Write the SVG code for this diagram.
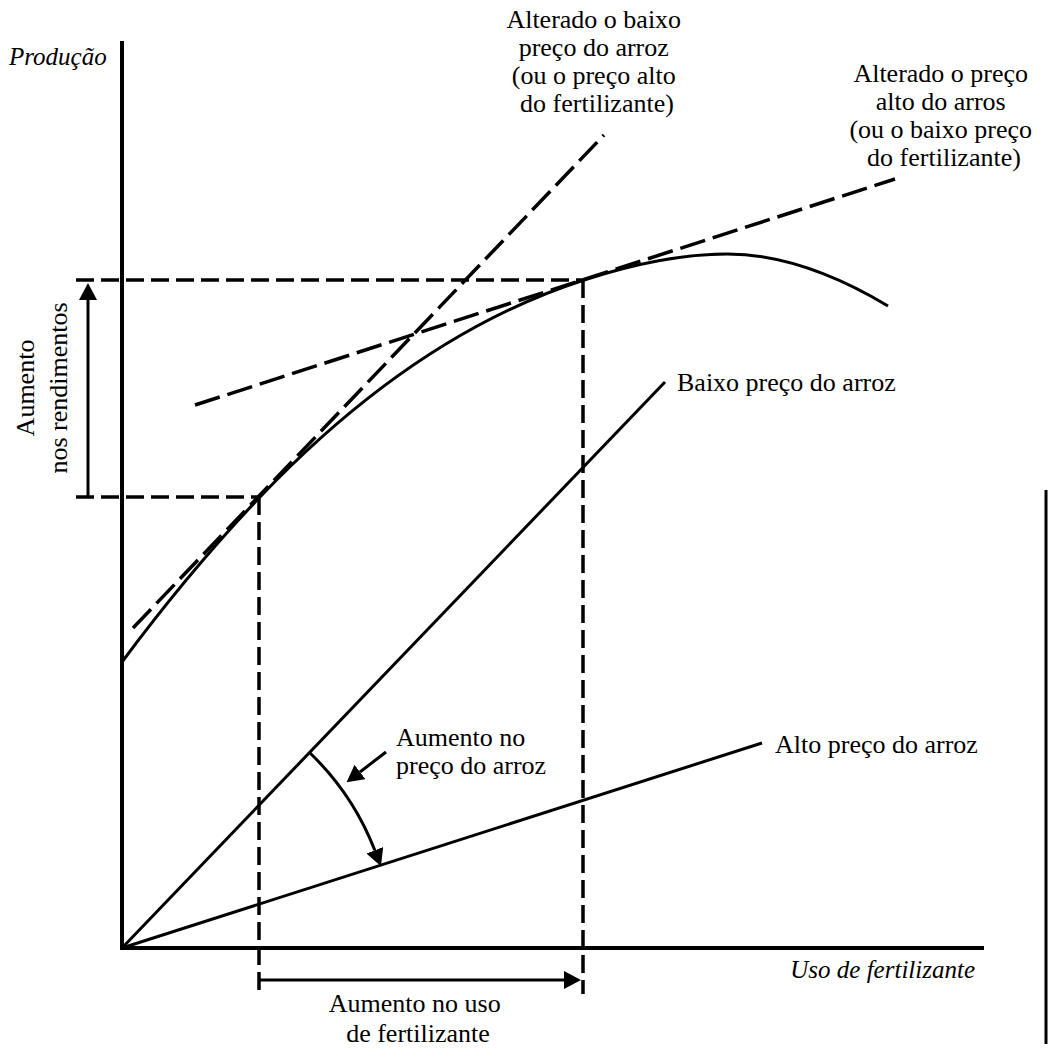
<svg xmlns="http://www.w3.org/2000/svg" width="1052" height="1050" viewBox="0 0 1052 1050">
  <style>
    .lbl { font-family: "Liberation Serif", "DejaVu Serif", serif; font-size: 26px; fill: #000; }
    .ax { font-family: "Liberation Serif", "DejaVu Serif", serif; font-size: 25px; font-style: italic; fill: #000; }
    .axis { stroke: #000; stroke-width: 4; fill: none; }
    .solid { stroke: #000; stroke-width: 3; fill: none; }
    .guide { stroke: #000; stroke-width: 3.5; fill: none; stroke-dasharray: 18 7; }
    .tangent { stroke: #000; stroke-width: 3.5; fill: none; stroke-dasharray: 26 8; }
    .arrow { stroke: #000; stroke-width: 3; fill: none; marker-end: url(#head); }
  </style>
  <defs>
    <marker id="head" viewBox="0 0 17 18" refX="0" refY="9" markerWidth="17" markerHeight="18" markerUnits="userSpaceOnUse" orient="auto">
      <path d="M0,0 L17,9 L0,18 z" fill="#000"/>
    </marker>
  </defs>
  <rect width="1052" height="1050" fill="#fff"/>

  <!-- axes -->
  <g id="axes">
    <line class="axis" x1="122" y1="41" x2="122" y2="950"/>
    <line class="axis" x1="120" y1="948" x2="984" y2="948"/>
    <text class="ax" x="9" y="65">Produção</text>
    <text class="ax" x="975" y="978" text-anchor="end" font-size="26">Uso de fertilizante</text>
  </g>

  <!-- frame edge on the right -->
  <line id="edge" x1="1046" y1="490" x2="1046" y2="1044" stroke="#000" stroke-width="3"/>

  <!-- production curve -->
  <g id="curve">
    <path class="solid" d="M122,662 C168,600 214,545.2 260,497 C368,383.9 476,314.9 584,280 C631.7,264.6 679.3,254 727,254 C780.7,254 834.3,273.8 888,306"/>
  </g>

  <!-- price lines through the origin -->
  <g id="price-low">
    <line class="solid" x1="122" y1="948" x2="665" y2="382"/>
    <text class="lbl" x="677" y="391">Baixo preço do arroz</text>
  </g>
  <g id="price-high">
    <line class="solid" x1="122" y1="948" x2="762" y2="743"/>
    <text class="lbl" x="775" y="753">Alto preço do arroz</text>
  </g>

  <!-- shifted price lines (tangents) -->
  <g id="tangent-steep">
    <line class="tangent" x1="133" y1="628" x2="604" y2="135"/>
    <text class="lbl" text-anchor="middle">
      <tspan x="597" y="28">Alterado o baixo</tspan>
      <tspan x="597" y="56">preço do arroz</tspan>
      <tspan x="597" y="84">(ou o preço alto</tspan>
      <tspan x="597" y="112">do fertilizante)</tspan>
    </text>
  </g>
  <g id="tangent-shallow">
    <line class="tangent" x1="195" y1="405" x2="895" y2="179"/>
    <text class="lbl" text-anchor="middle">
      <tspan x="944" y="82">Alterado o preço</tspan>
      <tspan x="944" y="110">alto do arros</tspan>
      <tspan x="944" y="138">(ou o baixo preço</tspan>
      <tspan x="944" y="166">do fertilizante)</tspan>
    </text>
  </g>

  <!-- dashed guides -->
  <g id="guides">
    <line class="guide" x1="76" y1="280" x2="584" y2="280"/>
    <line class="guide" x1="76" y1="497" x2="260" y2="497"/>
    <line class="guide" x1="259" y1="497" x2="259" y2="994"/>
    <line class="guide" x1="583" y1="280" x2="583" y2="994"/>
  </g>

  <!-- annotation arrows -->
  <g id="connectors">
    <line class="arrow" x1="88" y1="497" x2="88" y2="300"/>
    <line class="arrow" x1="259" y1="980" x2="564" y2="980"/>
    <path class="arrow" d="M310,753 A271,271 0 0 1 374.8,850.3"/>
    <line class="arrow" x1="386" y1="752" x2="360" y2="772"/>
  </g>

  <!-- annotation labels -->
  <g id="label-yield">
    <text class="lbl" font-size="27" text-anchor="middle" transform="translate(34,388) rotate(-90)">Aumento</text>
    <text class="lbl" font-size="27" text-anchor="middle" transform="translate(67,388) rotate(-90)">nos rendimentos</text>
  </g>
  <g id="label-use">
    <text class="lbl" text-anchor="middle">
      <tspan x="418" y="1012">Aumento no uso</tspan>
      <tspan x="418" y="1042">de fertilizante</tspan>
    </text>
  </g>
  <g id="label-price">
    <text class="lbl">
      <tspan x="396" y="746">Aumento no</tspan>
      <tspan x="396" y="774">preço do arroz</tspan>
    </text>
  </g>
</svg>
